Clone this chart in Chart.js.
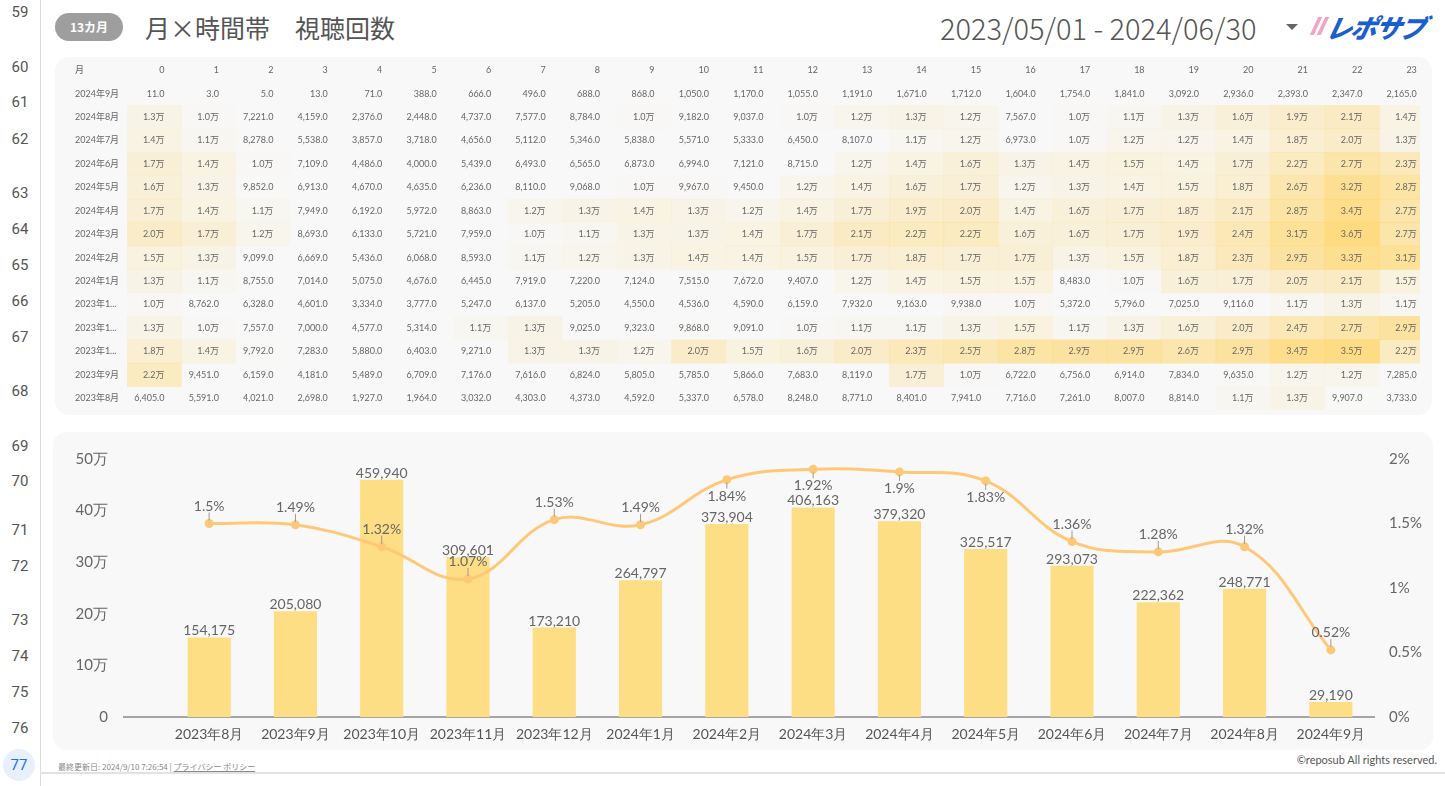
<!DOCTYPE html>
<html><head><meta charset="utf-8">
<script src="https://cdn.jsdelivr.net/npm/chart.js@4.4.1/dist/chart.umd.min.js"></script>
<style>
html,body{margin:0;padding:0;}
body{width:1445px;height:786px;background:#fff;position:relative;overflow:hidden;font-family:Lato,'Noto Sans CJK JP',sans-serif;}
.gut{position:absolute;left:0;width:40px;text-align:center;font:15px Roboto,sans-serif;color:#555;line-height:18px;margin-top:-9px;}
.gutline{position:absolute;left:40px;top:0;width:1px;height:786px;background:#dcdcdc;}
.panel{position:absolute;background:#f8f8f8;border-radius:14px;}
#pill{position:absolute;left:55px;top:13px;width:68px;height:28px;border-radius:14px;background:#9e9e9e;color:#fff;font:bold 12px 'Noto Sans CJK JP',sans-serif;text-align:center;line-height:28px;}
#title{position:absolute;left:145px;top:9px;font:25px 'Noto Sans CJK JP',sans-serif;color:#555;line-height:36px;white-space:pre;}
#date{position:absolute;left:940px;top:7px;font:300 29px 'Noto Sans CJK JP',sans-serif;color:#555;line-height:40px;white-space:pre;}
#tri{position:absolute;left:1286px;top:24px;width:0;height:0;border-left:6px solid transparent;border-right:6px solid transparent;border-top:6px solid #666;}
#logo{position:absolute;left:1312px;top:12px;height:26px;width:125px;}
#logo .s{position:absolute;top:5px;width:4px;height:18px;background:#f4a3c0;transform:skewX(-25deg);}
#logo .t{position:absolute;left:15px;top:-4px;font:italic 900 26px 'Noto Sans CJK JP',sans-serif;color:#1b5fcc;letter-spacing:-1.5px;transform:skewX(-12deg);}
#foot{position:absolute;left:58px;top:761px;font:8px 'Noto Sans CJK JP',sans-serif;color:#888;white-space:pre;}
#foot u{color:#888;}
#copy{position:absolute;right:8px;top:753px;font:11px Lato,sans-serif;color:#555;}
#bline{position:absolute;left:40px;top:772px;width:1405px;height:2px;background:#e2e2e2;}
#c77{position:absolute;left:3px;top:749px;width:32px;height:32px;border-radius:16px;background:#e8f0fe;color:#1a73e8;font:15px Roboto,sans-serif;text-align:center;line-height:32px;}
canvas{position:absolute;}
</style></head><body>
<div class="gutline"></div>
<div id="gutter"></div>
<div id="c77">77</div>
<div id="pill">13カ月</div>
<div id="title">月×時間帯　視聴回数</div>
<div id="date">2023/05/01 - 2024/06/30</div>
<div id="tri"></div>
<div id="logo"><div class="s" style="left:2px"></div><div class="s" style="left:9px"></div><div class="t">レポサブ</div></div>
<div class="panel" style="left:55px;top:57px;width:1377px;height:358px;"></div>
<div class="panel" style="left:53px;top:432px;width:1380px;height:318px;"></div>
<canvas id="heat" width="1377" height="358" style="left:55px;top:57px;"></canvas>
<canvas id="combo" width="1380" height="318" style="left:53px;top:432px;"></canvas>
<div id="foot">最終更新日: 2024/9/10 7:26:54 | <u>プライバシー ポリシー</u></div>
<div id="copy">©reposub All rights reserved.</div>
<div id="bline"></div>
<script>
// ---- gutter row numbers ----
const gutterNums = [59,60,61,62,63,64,65,66,67,68,69,70,71,72,73,74,75,76];
const gutterY = [12,67,102,139,193,229,265,301,337,391,446,481,530,566,620,656,692,728];
const g = document.getElementById('gutter');
gutterNums.forEach((n,i)=>{const d=document.createElement('div');d.className='gut';d.style.top=gutterY[i]+'px';d.textContent=n;g.appendChild(d);});

// ---- heatmap data ----
const hours = ['0','1','2','3','4','5','6','7','8','9','10','11','12','13','14','15','16','17','18','19','20','21','22','23'];
const heatRows = ['2024年9月','2024年8月','2024年7月','2024年6月','2024年5月','2024年4月','2024年3月','2024年2月','2024年1月','2023年12月','2023年11月','2023年10月','2023年9月','2023年8月'];
const v2024_09 = [11,3,5,13,71,388,666,496,688,868,1050,1170,1055,1191,1671,1712,1604,1754,1841,3092,2936,2393,2347,2165];
const v2024_08 = [13000,10000,7221,4159,2376,2448,4737,7577,8784,10000,9182,9037,10000,12000,13000,12000,7567,10000,11000,13000,16000,19000,21000,14000];
const v2024_07 = [14000,11000,8278,5538,3857,3718,4656,5112,5346,5838,5571,5333,6450,8107,11000,12000,6973,10000,12000,12000,14000,18000,20000,13000];
const v2024_06 = [17000,14000,10000,7109,4486,4000,5439,6493,6565,6873,6994,7121,8715,12000,14000,16000,13000,14000,15000,14000,17000,22000,27000,23000];
const v2024_05 = [16000,13000,9852,6913,4670,4635,6236,8110,9068,10000,9967,9450,12000,14000,16000,17000,12000,13000,14000,15000,18000,26000,32000,28000];
const v2024_04 = [17000,14000,11000,7949,6192,5972,8863,12000,13000,14000,13000,12000,14000,17000,19000,20000,14000,16000,17000,18000,21000,28000,34000,27000];
const v2024_03 = [20000,17000,12000,8693,6133,5721,7959,10000,11000,13000,13000,14000,17000,21000,22000,22000,16000,16000,17000,19000,24000,31000,36000,27000];
const v2024_02 = [15000,13000,9099,6669,5436,6068,8593,11000,12000,13000,14000,14000,15000,17000,18000,17000,17000,13000,15000,18000,23000,29000,33000,31000];
const v2024_01 = [13000,11000,8755,7014,5075,4676,6445,7919,7220,7124,7515,7672,9407,12000,14000,15000,15000,8483,10000,16000,17000,20000,21000,15000];
const v2023_12 = [10000,8762,6328,4601,3334,3777,5247,6137,5205,4550,4536,4590,6159,7932,9163,9938,10000,5372,5796,7025,9116,11000,13000,11000];
const v2023_11 = [13000,10000,7557,7000,4577,5314,11000,13000,9025,9323,9868,9091,10000,11000,11000,13000,15000,11000,13000,16000,20000,24000,27000,29000];
const v2023_10 = [18000,14000,9792,7283,5880,6403,9271,13000,13000,12000,20000,15000,16000,20000,23000,25000,28000,29000,29000,26000,29000,34000,35000,22000];
const v2023_09 = [22000,9451,6159,4181,5489,6709,7176,7616,6824,5805,5785,5866,7683,8119,17000,10000,6722,6756,6914,7834,9635,12000,12000,7285];
const v2023_08 = [6405,5591,4021,2698,1927,1964,3032,4303,4373,4592,5337,6578,8248,8771,8401,7941,7716,7261,8007,8814,11000,13000,9907,3733];
const heatValues = [v2024_09,v2024_08,v2024_07,v2024_06,v2024_05,v2024_04,v2024_03,v2024_02,v2024_01,v2023_12,v2023_11,v2023_10,v2023_09,v2023_08];

// ---- combo chart data ----
const months = ['2023年8月','2023年9月','2023年10月','2023年11月','2023年12月','2024年1月','2024年2月','2024年3月','2024年4月','2024年5月','2024年6月','2024年7月','2024年8月','2024年9月'];
const views = [154175,205080,459940,309601,173210,264797,373904,406163,379320,325517,293073,222362,248771,29190];
const rates = [1.5,1.49,1.32,1.07,1.53,1.49,1.84,1.92,1.9,1.83,1.36,1.28,1.32,0.52];
const leftTicks = [0,100000,200000,300000,400000,500000];
const rightTicks = [0,0.5,1,1.5,2];

function heatColor(v){
  const t = Math.max(0, Math.min(1, (v - 9500) / (36000 - 9500)));
  return 'rgba(255,214,108,' + (t * 0.85).toFixed(3) + ')';
}
function fmtCell(v){
  if (v >= 10000) return (v / 10000).toFixed(1) + '万';
  return v.toLocaleString('en-US', {minimumFractionDigits:1, maximumFractionDigits:1});
}
function fit(ctx, s, w){
  if (ctx.measureText(s).width <= w) return s;
  let t = s;
  while (t.length > 1 && ctx.measureText(t + '...').width > w) t = t.slice(0, -1);
  return t + '...';
}

const heatText = {
  id: 'heatText',
  afterDatasetsDraw(chart){
    const {ctx, chartArea, scales:{x, y}} = chart;
    ctx.save();
    ctx.fillStyle = '#666';
    ctx.textBaseline = 'middle';
    ctx.font = '9px Lato, "Noto Sans CJK JP"';
    const hy = chartArea.top - 12;
    ctx.textAlign = 'left';
    ctx.fillText('月', 20, hy);
    ctx.textAlign = 'right';
    hours.forEach((h, i) => ctx.fillText(h, x.getPixelForValue(i + 1) - 17, hy));
    heatRows.forEach((r, ri) => {
      const yy = y.getPixelForValue(ri);
      ctx.textAlign = 'left';
      ctx.fillText(fit(ctx, r, 46.5), 20, yy);
      ctx.textAlign = 'right';
      heatValues[ri].forEach((v, hi) => ctx.fillText(fmtCell(v), x.getPixelForValue(hi + 1) - 17, yy));
    });
    ctx.restore();
  }
};

const heatDatasets = hours.map((h, hi) => ({
  label: h,
  data: heatValues.map(() => [hi, hi + 1]),
  backgroundColor: heatValues.map(row => heatColor(row[hi])),
  borderWidth: 0,
  grouped: false,
  barPercentage: 1,
  categoryPercentage: 1
}));

new Chart(document.getElementById('heat'), {
  type: 'bar',
  data: {labels: heatRows, datasets: heatDatasets},
  options: {
    indexAxis: 'y', responsive: false, animation: false, events: [],
    layout: {padding: {left: 72, right: 12, top: 25, bottom: 5}},
    plugins: {legend: {display: false}, tooltip: {enabled: false}},
    scales: {
      x: {type: 'linear', min: 0, max: 23.746, display: false},
      y: {type: 'category', display: false, offset: true}
    }
  },
  plugins: [heatText]
});

const LINE = '#FFC878';
const BAR = '#FEDE84';
const comboLabels = {
  id: 'comboLabels',
  beforeDatasetsDraw(chart){
    const {ctx, chartArea, scales:{y}} = chart;
    const y0 = y.getPixelForValue(0);
    ctx.save();
    ctx.strokeStyle = '#8a8a8a'; ctx.lineWidth = 1.5;
    ctx.beginPath(); ctx.moveTo(chartArea.left - 43, y0); ctx.lineTo(chartArea.right + 1, y0); ctx.stroke();
    ctx.restore();
  },
  afterDatasetsDraw(chart){
    const {ctx, chartArea} = chart;
    const lineMeta = chart.getDatasetMeta(0), barMeta = chart.getDatasetMeta(1);
    ctx.save();
    ctx.font = '14px Lato'; ctx.fillStyle = '#666'; ctx.textAlign = 'center'; ctx.textBaseline = 'alphabetic';
    barMeta.data.forEach((el, i) => ctx.fillText(views[i].toLocaleString('en-US'), el.x, el.y - 2));
    lineMeta.data.forEach((el, i) => {
      ctx.strokeStyle = '#999'; ctx.lineWidth = 1;
      const below = el.y - chartArea.top < 26;
      ctx.beginPath();
      if (below) {
        ctx.moveTo(el.x, el.y + 3); ctx.lineTo(el.x, el.y + 9); ctx.stroke();
        ctx.fillText(rates[i] + '%', el.x, el.y + 21);
      } else {
        ctx.moveTo(el.x, el.y - 3); ctx.lineTo(el.x, el.y - 11); ctx.stroke();
        ctx.fillText(rates[i] + '%', el.x, el.y - 13);
      }
    });
    ctx.restore();
  }
};

function fixV(width){
  return s => { s.width = width; s.paddingTop = 0; s.paddingBottom = 0; };
}

new Chart(document.getElementById('combo'), {
  data: {
    labels: months,
    datasets: [
      {type: 'line', data: rates, yAxisID: 'y1', borderColor: LINE, backgroundColor: LINE, borderWidth: 3,
       pointRadius: 4.5, pointBackgroundColor: LINE, pointBorderWidth: 0, tension: 0.4, order: 0},
      {type: 'bar', data: views, yAxisID: 'y', backgroundColor: BAR, barPercentage: 0.5, categoryPercentage: 1, order: 1}
    ]
  },
  options: {
    responsive: false, animation: false, events: [],
    layout: {padding: {top: 27, left: 0, right: 0, bottom: 0}},
    plugins: {legend: {display: false}, tooltip: {enabled: false}},
    scales: {
      x: {grid: {display: false, drawTicks: false}, border: {display: false},
          ticks: {color: '#555', font: {size: 14, family: 'Lato'}, padding: 9, autoSkip: false, maxRotation: 0},
          afterFit: s => { s.height = 33; s.paddingLeft = 0; s.paddingRight = 0; }},
      y: {position: 'left', min: 0, max: 500000,
          afterBuildTicks: s => { s.ticks = leftTicks.map(v => ({value: v})); },
          ticks: {color: '#666', font: {size: 15, family: 'Lato'}, padding: 58,
                  callback: v => v === 0 ? '0' : (v / 10000) + '万'},
          grid: {display: false, drawTicks: false}, border: {display: false},
          afterFit: fixV(113)},
      y1: {position: 'right', min: 0, max: 2,
          afterBuildTicks: s => { s.ticks = rightTicks.map(v => ({value: v})); },
          ticks: {color: '#666', font: {size: 15, family: 'Lato'}, padding: 15,
                  callback: v => v + '%'},
          grid: {display: false, drawTicks: false}, border: {display: false},
          afterFit: fixV(59)}
    }
  },
  plugins: [comboLabels]
});
</script>
</body></html>
